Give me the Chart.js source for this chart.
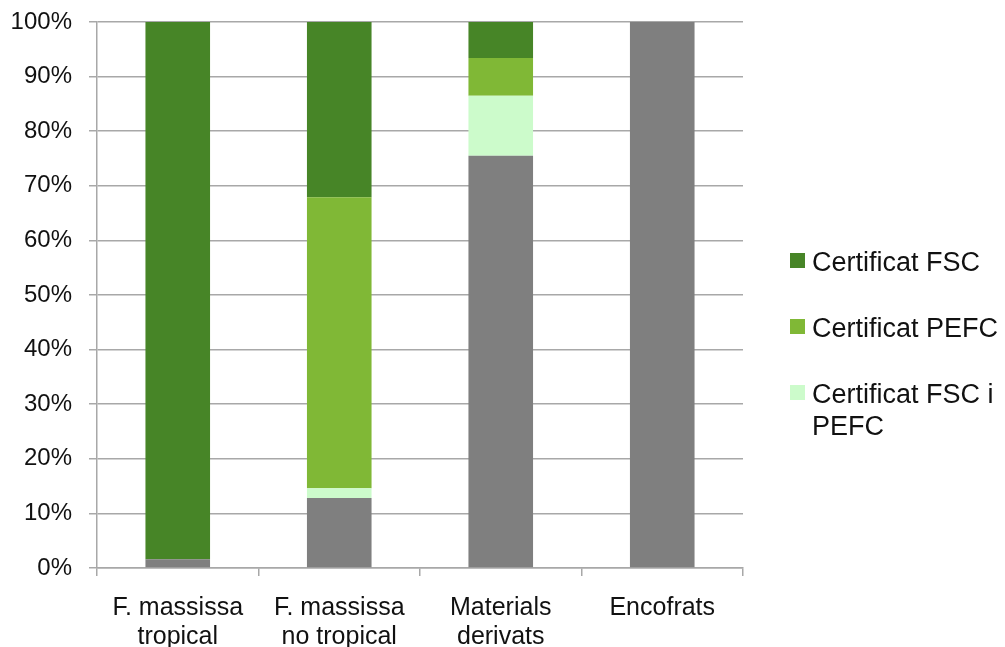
<!DOCTYPE html>
<html>
<head>
<meta charset="utf-8">
<script src="https://cdn.jsdelivr.net/npm/chart.js@4/dist/chart.umd.min.js"></script>
<style>
  html, body { margin: 0; padding: 0; background: #fff; }
  #wrap { position: relative; width: 1005px; height: 647px; }
  #legend { position: absolute; left: 790px; top: 246px; font-family: "Liberation Sans", Arial, sans-serif; font-size: 27px; color: #111; }
  #legend .item { display: flex; align-items: flex-start; margin-bottom: 34px; line-height: 32px; }
  #legend .box { width: 15px; height: 15px; margin-top: 7px; margin-right: 7px; flex: none; }
</style>
</head>
<body>
<div id="wrap">
  <canvas id="myChart" width="1005" height="647"></canvas>
  <div id="legend"></div>
</div>
<script>
var categories = [['F. massissa', 'tropical'], ['F. massissa', 'no tropical'], ['Materials', 'derivats'], ['Encofrats']]
var yTicks = [0, 10, 20, 30, 40, 50, 60, 70, 80, 90, 100]

// percentages, bottom to top
var senseCert = [1.6, 12.8, 75.5, 100]
var certFscPefc = [0, 1.8, 11.0, 0]
var certPefc = [0, 53.3, 6.9, 0]
var certFsc = [98.4, 32.1, 6.6, 0]

var series = [
    { label: 'Sense certificat', data: senseCert, color: '#7f7f7f', legend: false },
    { label: 'Certificat FSC i PEFC', data: certFscPefc, color: '#ccfbcb', legend: true, lines: ['Certificat FSC i', 'PEFC'] },
    { label: 'Certificat PEFC', data: certPefc, color: '#80b836', legend: true },
    { label: 'Certificat FSC', data: certFsc, color: '#478527', legend: true }
]

var family = '"Liberation Sans", Arial, sans-serif'
var gridColor = '#a8a8a8'

var ctx = document.getElementById('myChart')
var myChart = new Chart(ctx, {
    type: 'bar',
    data: {
        labels: categories,
        datasets: series.map(function (s) {
            return {
                label: s.label,
                data: s.data,
                backgroundColor: s.color,
                borderWidth: 0,
                barPercentage: 0.4,
                categoryPercentage: 1.0
            }
        })
    },
    options: {
        responsive: false,
        animation: false,
        layout: { padding: { top: 22, right: 262, left: 0, bottom: 0 } },
        plugins: { legend: { display: false }, tooltip: { enabled: false } },
        scales: {
            x: {
                stacked: true,
                grid: { display: true, drawOnChartArea: false, drawTicks: true, tickLength: 8, offset: true, color: gridColor, lineWidth: 1.5 },
                border: { color: gridColor, width: 1.5 },
                ticks: { color: '#111', font: { family: family, size: 25, lineHeight: 1.18 }, padding: 17, maxRotation: 0, autoSkip: false },
                afterFit: function (s) { s.height = 79; s.paddingLeft = 0; s.paddingRight = 0 }
            },
            y: {
                stacked: true,
                min: 0,
                max: 100,
                afterBuildTicks: function (s) { s.ticks = yTicks.map(function (v) { return { value: v } }) },
                grid: { color: gridColor, lineWidth: 1.5, tickLength: 8 },
                border: { color: gridColor, width: 1.5 },
                ticks: { color: '#111', font: { family: family, size: 24 }, padding: 17, callback: function (v) { return v + '%' } },
                afterFit: function (s) { s.width = 97; s.paddingTop = 0; s.paddingBottom = 0 }
            }
        }
    }
})

// legend, top series first
var legend = document.getElementById('legend')
series.slice().reverse().forEach(function (s) {
    if (!s.legend) return
    var item = document.createElement('div')
    item.className = 'item'
    var box = document.createElement('div')
    box.className = 'box'
    box.style.background = s.color
    var txt = document.createElement('div')
    txt.innerHTML = (s.lines || [s.label]).join('<br>')
    item.appendChild(box)
    item.appendChild(txt)
    legend.appendChild(item)
})
</script>
</body>
</html>
